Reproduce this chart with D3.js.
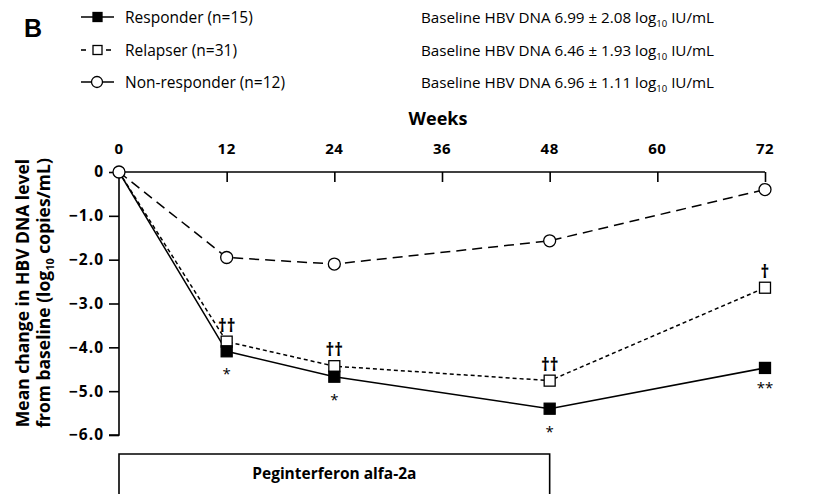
<!DOCTYPE html>
<html><head><meta charset="utf-8">
<script src="https://cdn.jsdelivr.net/npm/d3@7"></script>
<style>body{margin:0;background:#fff;} svg{display:block;}</style>
</head><body>
<svg id="c" width="819" height="494"></svg>
<script>
const weeks = [0, 12, 24, 48, 72];
const responder = [0, -4.09, -4.67, -5.40, -4.47];
const relapser = [0, -3.87, -4.43, -4.76, -2.64];
const nonResponder = [0, -1.95, -2.10, -1.57, -0.40];
const xTicks = [0, 12, 24, 36, 48, 60, 72];
const yTicks = [0, -1, -2, -3, -4, -5, -6];
const legendNames = ["Responder (n=15)", "Relapser (n=31)", "Non-responder (n=12)"];
const baselineMean = ["6.99", "6.46", "6.96"];
const baselineSD = ["2.08", "1.93", "1.11"];
const relapserMarks = ["††", "††", "††", "†"];
const responderMarks = ["*", "*", "*", "**"];

const svg = d3.select("#c");
const F = "'Open Sans', sans-serif";
const x = d3.scaleLinear().domain([0, 72]).range([119, 765]);
const y = d3.scaleLinear().domain([0, -6]).range([172, 435]);

// Panel letter
svg.append("text").attr("x", 24).attr("y", 37).attr("font-family", "Liberation Sans, Arial, sans-serif")
  .attr("font-weight", "bold").attr("font-size", 25).text("B");

// Legend
const series = [
  {vals: responder, dash: null, shape: "sq", fill: "#000"},
  {vals: relapser, dash: "4,3", shape: "sq", fill: "#fff"},
  {vals: nonResponder, dash: "10,6", shape: "circ", fill: "#fff"}
];
const legY = [17, 50, 82];
series.forEach((s, i) => {
  const g = svg.append("g");
  const cy = legY[i];
  if (i === 1) {
    g.append("line").attr("x1", 81).attr("x2", 86).attr("y1", cy).attr("y2", cy).attr("stroke", "#000").attr("stroke-width", 1.6);
    g.append("line").attr("x1", 106).attr("x2", 111).attr("y1", cy).attr("y2", cy).attr("stroke", "#000").attr("stroke-width", 1.6);
  } else {
    g.append("line").attr("x1", 81).attr("x2", 114).attr("y1", cy).attr("y2", cy).attr("stroke", "#000").attr("stroke-width", 1.6);
  }
  if (s.shape === "sq") {
    g.append("rect").attr("x", 97.5 - 4.5).attr("y", cy - 4.5).attr("width", 9).attr("height", 9)
      .attr("fill", s.fill).attr("stroke", "#000").attr("stroke-width", 1.3);
  } else {
    g.append("circle").attr("cx", 97).attr("cy", cy).attr("r", 5.5).attr("fill", "#fff").attr("stroke", "#000").attr("stroke-width", 1.3);
  }
  g.append("text").attr("x", 125).attr("y", cy + 5.5).attr("font-family", F).attr("font-size", 15.5).text(legendNames[i]);
  const t = g.append("text").attr("x", 421).attr("y", cy + 5.5).attr("font-family", F).attr("font-size", 15.2);
  t.append("tspan").text(`Baseline HBV DNA ${baselineMean[i]} \u00b1 ${baselineSD[i]} log`);
  t.append("tspan").attr("font-size", 9.5).attr("dy", 4).text("10");
  t.append("tspan").attr("dy", -4).text(" IU/mL");
});

// Axis title "Weeks"
svg.append("text").attr("x", 438).attr("y", 125).attr("text-anchor", "middle").attr("font-family", F)
  .attr("font-weight", "bold").attr("font-size", 18).text("Weeks");

// Top axis
const xAxis = d3.axisBottom(x).tickValues(xTicks).tickSize(10).tickFormat("");
const gx = svg.append("g").attr("transform", "translate(0,172)").call(xAxis);
gx.select(".domain").attr("stroke-width", 1.6).attr("d", `M${x(0)},0H${x(72)}`);
gx.selectAll(".tick line").attr("stroke-width", 1.6).filter(d => d === 0).remove();
svg.append("g").selectAll("text").data(xTicks).join("text")
  .attr("x", d => x(d)).attr("y", 154).attr("text-anchor", "middle").attr("font-family", F)
  .attr("font-weight", "bold").attr("font-size", 15).attr("letter-spacing", 0.5).text(d => d);

// Y axis
const yAxis = d3.axisLeft(y).tickValues(yTicks).tickSize(10).tickFormat(d => d === 0 ? "0" : d3.format(".1f")(d)).tickPadding(5);
const gy = svg.append("g").attr("transform", `translate(${x(0)},0)`).call(yAxis);
gy.select(".domain").attr("stroke-width", 1.6).attr("d", `M0,${y(0)}V${y(-6)}H-10`);
gy.selectAll(".tick line").attr("stroke-width", 1.6);
gy.selectAll(".tick text").attr("font-family", F).attr("font-weight", "bold").attr("font-size", 15.5).attr("letter-spacing", 1).attr("fill", "#000");

// Y title
const yt = svg.append("text").attr("transform", "translate(29,293) rotate(-90)").attr("text-anchor", "middle")
  .attr("font-family", F).attr("font-weight", "bold").attr("font-size", 17.5);
yt.append("tspan").attr("x", 0).attr("dy", 0).text("Mean change in HBV DNA level");
const yt2 = svg.append("text").attr("transform", "translate(50,293) rotate(-90)").attr("text-anchor", "middle")
  .attr("font-family", F).attr("font-weight", "bold").attr("font-size", 17.5);
yt2.append("tspan").text("from baseline (log");
yt2.append("tspan").attr("font-size", 11).attr("dy", 4).text("10");
yt2.append("tspan").attr("dy", -4).text(" copies/mL)");

// Lines
const line = d3.line().x((d, i) => x(weeks[i])).y(d => y(d));
[2, 1, 0].forEach(i => {
  const s = series[i];
  svg.append("path").datum(s.vals).attr("d", line).attr("fill", "none").attr("stroke", "#000")
    .attr("stroke-width", 1.5).attr("stroke-dasharray", s.dash);
});
// Markers
[2, 1, 0].forEach(i => {
  const s = series[i];
  const g = svg.append("g");
  if (s.shape === "sq") {
    g.selectAll("rect").data(s.vals.slice(1)).join("rect")
      .attr("x", (d, j) => x(weeks[j + 1]) - 5.5).attr("y", d => y(d) - 5.5).attr("width", 11).attr("height", 11)
      .attr("fill", s.fill).attr("stroke", "#000").attr("stroke-width", 1.3);
  } else {
    g.selectAll("circle").data(s.vals).join("circle")
      .attr("cx", (d, j) => x(weeks[j])).attr("cy", d => y(d)).attr("r", 6)
      .attr("fill", "#fff").attr("stroke", "#000").attr("stroke-width", 1.3);
  }
});

// Significance marks
svg.append("g").selectAll("text").data(relapserMarks).join("text")
  .attr("x", (d, j) => x(weeks[j + 1])).attr("y", (d, j) => y(relapser[j + 1]) - 10)
  .attr("text-anchor", "middle").attr("font-family", F).attr("font-weight", "bold").attr("font-size", 17).text(d => d);
svg.append("g").selectAll("text").data(responderMarks).join("text")
  .attr("x", (d, j) => x(weeks[j + 1])).attr("y", (d, j) => y(responder[j + 1]) + (j === 3 ? 25 : 28))
  .attr("text-anchor", "middle").attr("font-family", F).attr("font-size", 15).text(d => d);

// Treatment box
svg.append("path").attr("d", `M${x(0)},500V454H${x(48)}V500`).attr("fill", "none").attr("stroke", "#000").attr("stroke-width", 1.6);
svg.append("text").attr("x", (x(0) + x(48)) / 2).attr("y", 479).attr("text-anchor", "middle").attr("font-family", F)
  .attr("font-weight", "bold").attr("font-size", 15.5).text("Peginterferon alfa-2a");
</script>
</body></html>
